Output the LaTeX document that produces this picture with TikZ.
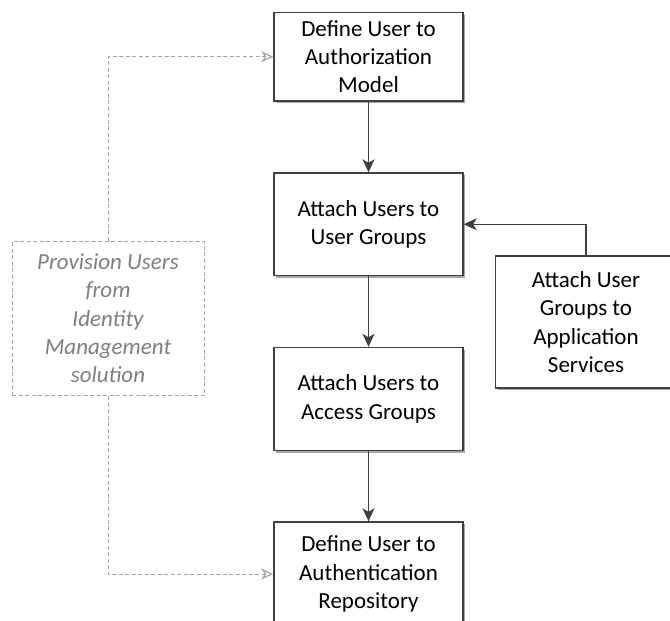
\documentclass[tikz,border=0pt]{standalone}
\usepackage{fontspec}
\setmainfont{Carlito}
\usetikzlibrary{arrows.meta,shadows}
\definecolor{edge}{HTML}{404040}
\definecolor{soft}{HTML}{A6A6A6}
\definecolor{softtext}{HTML}{7F7F7F}
\tikzset{
  boxstyle/.style={draw=edge, line width=1.4pt, fill=white, align=center,
    inner sep=0pt, font=\fontsize{23}{28.3}\selectfont,
    drop shadow={shadow xshift=2pt, shadow yshift=-2pt, opacity=0.35, fill=black}},
  provstyle/.style={draw=soft, line width=1pt, dash pattern=on 4pt off 2.5pt, align=center,
    inner sep=0pt, text=softtext, font=\fontsize{23}{28.3}\selectfont\itshape},
  flow/.style={draw=edge, line width=1.3pt, -{Stealth[length=13pt,width=12pt,inset=3.5pt]}},
  softflow/.style={draw=soft, line width=1pt, dash pattern=on 4pt off 2.5pt,
    -{Stealth[length=12pt,width=11pt,inset=3.5pt,open,line width=1.2pt]}}
}
\begin{document}
\begin{tikzpicture}[x=1pt,y=-1pt]
\useasboundingbox (0,0) rectangle (670,621);
\clip (0,0) rectangle (670,621);
\node[boxstyle, minimum width=189pt, minimum height=88.5pt] (auth) at (368.5,56.75) {Define User to\\Authorization\\Model};
\node[boxstyle, minimum width=189pt, minimum height=102.5pt] (ugroups) at (368.5,224.25) {Attach Users to\\User Groups};
\node[boxstyle, minimum width=181pt, minimum height=132pt] (apps) at (586,322) {Attach User\\Groups to\\Application\\Services};
\node[boxstyle, minimum width=189pt, minimum height=103pt] (agroups) at (368.5,399) {Attach Users to\\Access Groups};
\node[boxstyle, minimum width=189pt, minimum height=104pt] (authn) at (368.5,574) {Define User to\\Authentication\\Repository};
\node[provstyle, minimum width=192pt, minimum height=154.5pt] (prov) at (108,318.25) {Provision Users\\from\\Identity\\Management\\solution};

\draw[flow] (auth.south) -- (ugroups.north);
\draw[flow] (ugroups.south) -- (agroups.north);
\draw[flow] (agroups.south) -- (authn.north);
\draw[flow] (apps.north) |- (ugroups.east);
\draw[softflow] (prov.north) |- (auth.west);
\draw[softflow] (prov.south) |- (authn.west);
\end{tikzpicture}
\end{document}
